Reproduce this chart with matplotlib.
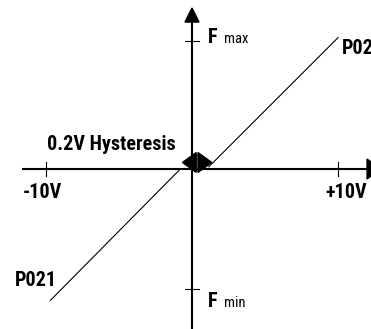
import matplotlib.pyplot as plt
from matplotlib.patches import Polygon

plt.rcParams['font.family'] = ['Roboto Condensed', 'DejaVu Sans']

# input voltage ticks on the horizontal axis
tick_v = [-10, 10]
tick_labels = ['-10V', '+10V']

# frequency limits on the vertical axis
f_levels = [8.8, -8.2]
f_subs = ['max', 'min']

# characteristic lines (V, F)
p021_x = [-9.7, -0.8]
p021_y = [-9.0, 0.0]
p022_x = [1.15, 10.0]
p022_y = [0.15, 9.0]

hyst_x = 0.35
hyst_y = 0.45

fig = plt.figure(figsize=(3.71, 3.29), dpi=100)
ax = fig.add_axes([0, 0, 1, 1])
ax.set_xlim(-13.15, 12.26)
ax.set_ylim(-10.96, 11.58)
ax.axis('off')

# axes with arrowheads
ax.plot([-11.64, 12.0], [0, 0], color='black', lw=1.5, solid_capstyle='butt')
ax.plot([0, 0], [-11.2, 10.1], color='black', lw=1.5, solid_capstyle='butt')
ax.add_patch(Polygon([[-0.48, 10.07], [0.48, 10.07], [0, 11.03]], closed=True,
                     color='black'))
ax.add_patch(Polygon([[11.99, 0.68], [11.99, -0.68], [12.95, 0]], closed=True,
                     color='black'))

txt = dict(fontsize=14.5, fontweight='bold')

# ticks
label_x = [-10.27, 10.55]
for v, lx, lab in zip(tick_v, label_x, tick_labels):
    ax.plot([v, v], [-0.45, 0.45], color='black', lw=0.8)
    ax.text(lx, -1.64, lab, ha='center', va='center', **txt)
label_base = [8.63, -9.45]
for f, yb, sub in zip(f_levels, label_base, f_subs):
    ax.plot([-0.48, 0.48], [f, f], color='black', lw=0.8)
    ax.text(1.1, yb, 'F', ha='left', va='baseline', fontsize=14.5,
            fontweight='bold')
    ax.text(2.2, yb, sub, ha='left', va='baseline', fontsize=10.5)

# characteristic lines
ax.plot(p021_x, p021_y, color='black', lw=0.8)
ax.plot(p022_x, p022_y, color='black', lw=0.8)
ax.text(-12.12, -7.67, 'P021', ha='left', va='center', **txt)
ax.text(10.27, 8.25, 'P022', ha='left', va='center', **txt)

# hysteresis marker (double arrowhead)
hw, hh, gap = 1.0, 0.68, 0.06
ax.add_patch(Polygon([[hyst_x - hw, hyst_y], [hyst_x - gap, hyst_y + hh],
                      [hyst_x - gap, hyst_y - hh]], closed=True, color='black'))
ax.add_patch(Polygon([[hyst_x + hw, hyst_y], [hyst_x + gap, hyst_y + hh],
                      [hyst_x + gap, hyst_y - hh]], closed=True, color='black'))
ax.text(-9.93, 1.71, '0.2V Hysteresis', ha='left', va='center', **txt)

fig.savefig('out.png', dpi=100)
